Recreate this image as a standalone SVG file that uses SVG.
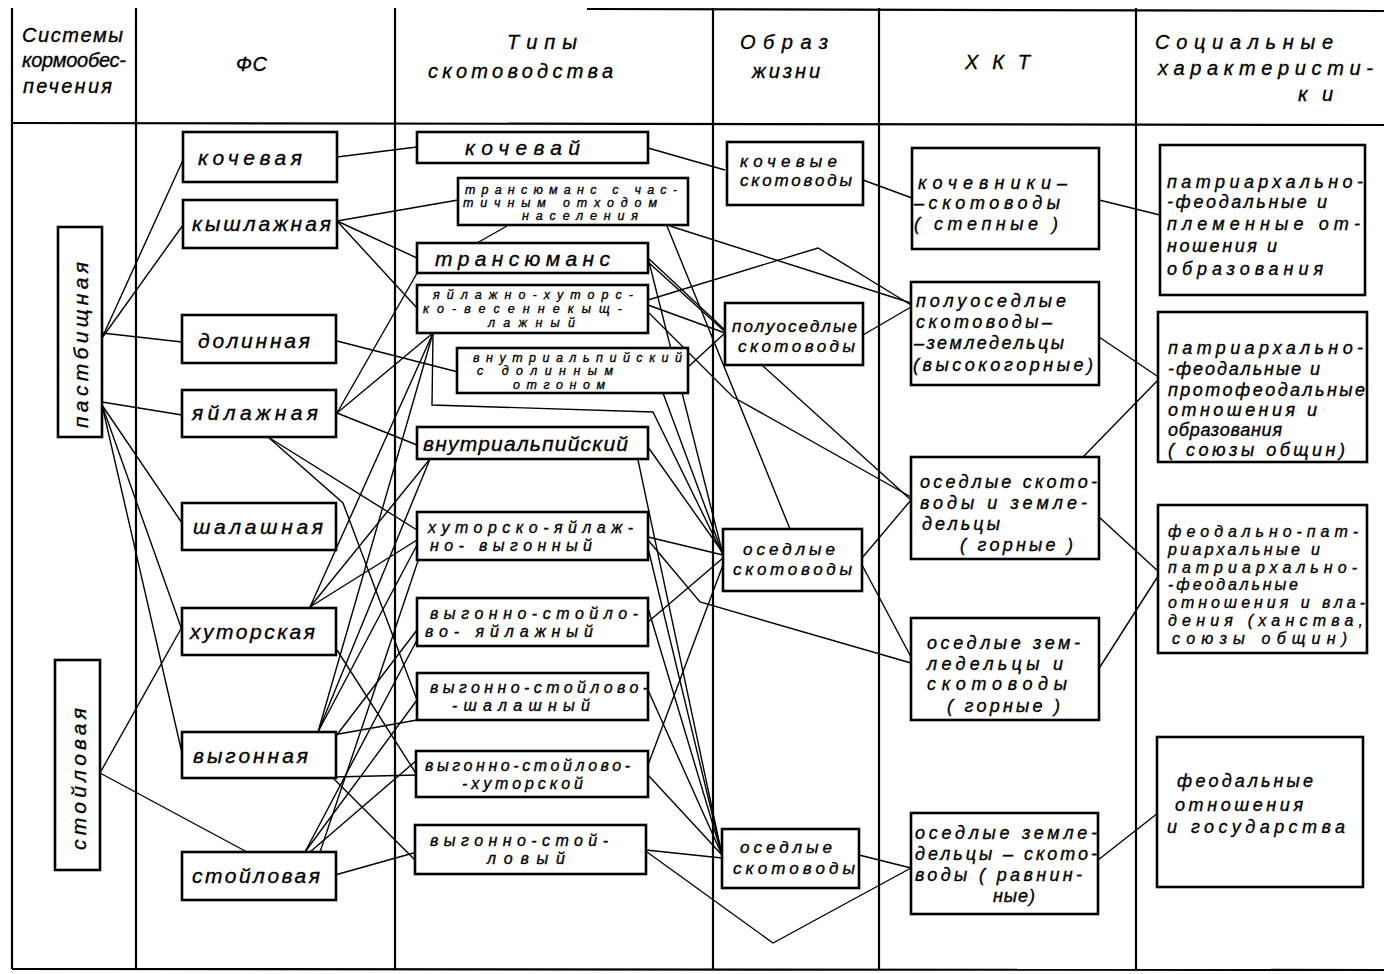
<svg xmlns="http://www.w3.org/2000/svg" width="1384" height="974" viewBox="0 0 1384 974">
<style>
.grid{stroke:#000;stroke-width:2.2;fill:none}
.box{fill:#fff;stroke:#000;stroke-width:2.6}
.c{stroke:#000;stroke-width:1.4;fill:none}
text{font-family:"Liberation Sans","DejaVu Sans",sans-serif;font-style:italic;fill:#000;stroke:#000;stroke-width:0.35}
.h{font-size:20px}
.n{font-size:21px}
.s{font-size:12.5px}
.k{font-size:16px}
.o{font-size:17px}
.m{font-size:18px}
</style>
<rect width="1384" height="974" fill="#fff"/>
<g id="table" class="grid">
<line x1="12" y1="8" x2="12" y2="969"/>
<line x1="136" y1="8" x2="136" y2="969"/>
<line x1="395" y1="8" x2="395" y2="969"/>
<line x1="713" y1="8" x2="713" y2="969"/>
<line x1="879" y1="8" x2="879" y2="969"/>
<line x1="1136" y1="8" x2="1136" y2="969"/>
<line x1="587" y1="9" x2="1384" y2="11"/>
<line x1="12" y1="123" x2="1384" y2="125"/>
<line x1="12" y1="969" x2="1384" y2="970"/>
</g>
<g id="headers">
<text class="h" x="22" y="42" textLength="101">Системы</text>
<text class="h" x="22" y="67" textLength="104">кормообес-</text>
<text class="h" x="23" y="93" textLength="89">печения</text>
<text class="h" x="236" y="71" textLength="31">Ф С</text>
<text class="h" x="507" y="49" textLength="70">Т и п ы</text>
<text class="h" x="428" y="78" textLength="185">скотоводства</text>
<text class="h" x="740" y="49" textLength="88">Образ</text>
<text class="h" x="752" y="78" textLength="68">жизни</text>
<text class="h" x="965" y="69" textLength="65">Х К Т</text>
<text class="h" x="1155" y="49" textLength="178">Социальные</text>
<text class="h" x="1158" y="75" textLength="215">характеристи-</text>
<text class="h" x="1298" y="101" textLength="35">ки</text>
</g>
<g id="connectors" class="c">
<polyline points="102,338 183,160"/>
<polyline points="102,338 183,225"/>
<polyline points="102,333 182,342"/>
<polyline points="102,402 182,415"/>
<polyline points="102,405 182,523"/>
<polyline points="102,405 182,630"/>
<polyline points="102,405 182,753"/>
<polyline points="100,773 182,627"/>
<polyline points="100,773 247,852"/>
<polyline points="337,157 417,147"/>
<polyline points="337,221 458,200"/>
<polyline points="337,221 417,258"/>
<polyline points="337,221 417,308"/>
<polyline points="337,341 458,372"/>
<polyline points="337,413 420,268"/>
<polyline points="337,413 433,333"/>
<polyline points="337,413 417,445"/>
<polyline points="268,437 417,530"/>
<polyline points="268,437 343,503 417,700"/>
<polyline points="310,607 433,333"/>
<polyline points="310,607 430,459"/>
<polyline points="310,607 417,540"/>
<polyline points="337,650 417,775"/>
<polyline points="318,732 433,333"/>
<polyline points="318,732 430,459"/>
<polyline points="318,732 417,545"/>
<polyline points="333,740 417,630"/>
<polyline points="333,735 417,720"/>
<polyline points="333,777 417,775"/>
<polyline points="333,778 417,862"/>
<polyline points="305,852 417,640"/>
<polyline points="305,852 417,700"/>
<polyline points="310,852 417,760"/>
<polyline points="320,852 420,555"/>
<polyline points="335,875 417,852"/>
<polyline points="648,148 725,170"/>
<polyline points="507,226 477,243"/>
<polyline points="670,226 911,303"/>
<polyline points="667,226 790,529"/>
<polyline points="648,258 725,330"/>
<polyline points="648,258 723,555"/>
<polyline points="648,262 911,500"/>
<polyline points="648,300 818,248 911,305"/>
<polyline points="648,305 725,333"/>
<polyline points="648,312 733,397 911,497"/>
<polyline points="688,367 725,333"/>
<polyline points="663,393 723,555"/>
<polyline points="433,333 432,405 653,412 723,555"/>
<polyline points="648,447 723,553"/>
<polyline points="638,460 722,855"/>
<polyline points="648,537 723,555"/>
<polyline points="648,540 700,602 911,663"/>
<polyline points="648,548 722,855"/>
<polyline points="648,622 723,558"/>
<polyline points="648,608 722,855"/>
<polyline points="648,690 722,855"/>
<polyline points="648,765 723,565"/>
<polyline points="648,775 722,855"/>
<polyline points="646,850 722,858"/>
<polyline points="647,852 773,943 911,868"/>
<polyline points="863,180 912,198"/>
<polyline points="863,335 911,307"/>
<polyline points="862,558 911,500"/>
<polyline points="862,565 911,657"/>
<polyline points="859,855 911,868"/>
<polyline points="1099,200 1160,215"/>
<polyline points="1099,337 1160,378"/>
<polyline points="1083,457 1160,378"/>
<polyline points="1099,517 1160,573"/>
<polyline points="1098,670 1160,573"/>
<polyline points="1098,860 1158,813"/>
</g>
<g id="n-pastb"><rect class="box" x="58" y="227" width="44" height="210"/><text class="n" transform="translate(88,428) rotate(-90)" textLength="166">пастбищная</text></g>
<g id="n-stoil-sys"><rect class="box" x="55" y="660" width="45" height="210"/><text class="n" transform="translate(86,850) rotate(-90)" textLength="142">стойловая</text></g>
<g id="n-kochevaya"><rect class="box" x="183" y="132" width="154" height="50"/><text class="n" x="198" y="165" textLength="104">кочевая</text></g>
<g id="n-kyshl"><rect class="box" x="183" y="200" width="154" height="48"/><text class="n" x="192" y="231" textLength="139">кышлажная</text></g>
<g id="n-dolin"><rect class="box" x="182" y="315" width="154" height="48"/><text class="n" x="198" y="348" textLength="112">долинная</text></g>
<g id="n-yayl"><rect class="box" x="182" y="390" width="154" height="47"/><text class="n" x="192" y="420" textLength="126">яйлажная</text></g>
<g id="n-shal"><rect class="box" x="182" y="503" width="154" height="47"/><text class="n" x="193" y="534" textLength="130">шалашная</text></g>
<g id="n-khut"><rect class="box" x="182" y="608" width="154" height="47"/><text class="n" x="190" y="639" textLength="125">хуторская</text></g>
<g id="n-vygon"><rect class="box" x="182" y="732" width="154" height="46"/><text class="n" x="193" y="763" textLength="115">выгонная</text></g>
<g id="n-stoil"><rect class="box" x="182" y="852" width="154" height="48"/><text class="n" x="192" y="883" textLength="128">стойловая</text></g>
<g id="t-koch"><rect class="box" x="417" y="132" width="231" height="31"/><text class="n" x="465" y="155" textLength="115">кочевай</text></g>
<g id="t-trans-ch"><rect class="box" x="458" y="178" width="230" height="47"/><text class="s" x="465" y="194" textLength="212">трансюманс с час-</text><text class="s" x="463" y="207" textLength="194">тичным  отходом</text><text class="s" x="522" y="220" textLength="116">населения</text></g>
<g id="t-trans"><rect class="box" x="417" y="243" width="231" height="30"/><text class="n" x="435" y="266" textLength="175">трансюманс</text></g>
<g id="t-yayl-khut"><rect class="box" x="417" y="285" width="231" height="48"/><text class="s" x="433" y="299" textLength="200">яйлажно-хуторс-</text><text class="s" x="423" y="313" textLength="199">ко-весеннекыщ-</text><text class="s" x="488" y="327" textLength="87">лажный</text></g>
<g id="t-vnutr-dol"><rect class="box" x="457" y="348" width="231" height="45"/><text class="s" x="473" y="362" textLength="209">внутриальпийский</text><text class="s" x="477" y="375" textLength="136">с долинным</text><text class="s" x="513" y="389" textLength="92">отгоном</text></g>
<g id="t-vnutr"><rect class="box" x="417" y="427" width="231" height="32"/><text class="n" x="423" y="451" textLength="205">внутриальпийский</text></g>
<g id="t-khut-yayl-vyg"><rect class="box" x="417" y="512" width="231" height="48"/><text class="k" x="428" y="533" textLength="205">хуторско-яйлаж-</text><text class="k" x="430" y="551" textLength="162">но- выгонный</text></g>
<g id="t-vsya"><rect class="box" x="417" y="598" width="231" height="48"/><text class="k" x="430" y="619" textLength="208">выгонно-стойло-</text><text class="k" x="425" y="637" textLength="168">во- яйлажный</text></g>
<g id="t-vssh"><rect class="box" x="417" y="673" width="231" height="47"/><text class="k" x="430" y="693" textLength="218">выгонно-стойлово-</text><text class="k" x="452" y="711" textLength="138">-шалашный</text></g>
<g id="t-vskh"><rect class="box" x="416" y="751" width="232" height="46"/><text class="k" x="425" y="771" textLength="205">выгонно-стойлово-</text><text class="k" x="462" y="789" textLength="121">-хуторской</text></g>
<g id="t-vs"><rect class="box" x="415" y="825" width="231" height="49"/><text class="k" x="430" y="846" textLength="178">выгонно-стой-</text><text class="k" x="487" y="864" textLength="78">ловый</text></g>
<g id="o-koch"><rect class="box" x="727" y="142" width="136" height="63"/><text class="o" x="740" y="167" textLength="97">кочевые</text><text class="o" x="740" y="186" textLength="112">скотоводы</text></g>
<g id="o-poluos"><rect class="box" x="725" y="303" width="138" height="62"/><text class="o" x="732" y="332" textLength="125">полуоседлые</text><text class="o" x="738" y="352" textLength="117">скотоводы</text></g>
<g id="o-osed1"><rect class="box" x="723" y="529" width="139" height="62"/><text class="o" x="743" y="555" textLength="92">оседлые</text><text class="o" x="733" y="575" textLength="119">скотоводы</text></g>
<g id="o-osed2"><rect class="box" x="722" y="829" width="137" height="59"/><text class="o" x="740" y="853" textLength="92">оседлые</text><text class="o" x="733" y="874" textLength="122">скотоводы</text></g>
<g id="x-koch"><rect class="box" x="912" y="148" width="187" height="101"/><text class="m" x="918" y="189" textLength="149">кочевники–</text><text class="m" x="914" y="209" textLength="146">–скотоводы</text><text class="m" x="914" y="230" textLength="144">( степные )</text></g>
<g id="x-poluos"><rect class="box" x="911" y="282" width="188" height="103"/><text class="m" x="916" y="307" textLength="150">полуоседлые</text><text class="m" x="916" y="328" textLength="136">скотоводы–</text><text class="m" x="914" y="349" textLength="150">–земледельцы</text><text class="m" x="913" y="371" textLength="180">(высокогорные)</text></g>
<g id="x-osed-sz"><rect class="box" x="911" y="457" width="188" height="102"/><text class="m" x="920" y="488" textLength="177">оседлые  ското-</text><text class="m" x="920" y="509" textLength="167">воды и земле-</text><text class="m" x="922" y="530" textLength="78">дельцы</text><text class="m" x="960" y="551" textLength="113">( горные )</text></g>
<g id="x-osed-zs"><rect class="box" x="911" y="618" width="188" height="102"/><text class="m" x="927" y="649" textLength="153">оседлые  зем-</text><text class="m" x="927" y="670" textLength="136">ледельцы  и</text><text class="m" x="927" y="690" textLength="140">скотоводы</text><text class="m" x="947" y="712" textLength="113">( горные )</text></g>
<g id="x-ravn"><rect class="box" x="911" y="813" width="187" height="101"/><text class="m" x="915" y="839" textLength="182">оседлые  земле-</text><text class="m" x="915" y="860" textLength="182">дельцы – ското-</text><text class="m" x="915" y="881" textLength="167">воды ( равнин-</text><text class="m" x="993" y="902" textLength="42">ные)</text></g>
<g id="s-1"><rect class="box" x="1160" y="145" width="205" height="150"/><text class="m" x="1167" y="188" textLength="196">патриархально-</text><text class="m" x="1167" y="208" textLength="160">-феодальные и</text><text class="m" x="1167" y="230" textLength="193">племенные от-</text><text class="m" x="1167" y="252" textLength="110">ношения  и</text><text class="m" x="1167" y="275" textLength="156">образования</text></g>
<g id="s-2"><rect class="box" x="1158" y="312" width="209" height="150"/><text class="m" x="1168" y="354" textLength="195">патриархально-</text><text class="m" x="1168" y="375" textLength="152">-феодальные  и</text><text class="m" x="1168" y="396" textLength="197">протофеодальные</text><text class="m" x="1168" y="416" textLength="149">отношения  и</text><text class="m" x="1168" y="436" textLength="114">образования</text><text class="m" x="1168" y="456" textLength="177">( союзы  общин)</text></g>
<g id="s-3"><rect class="box" x="1158" y="505" width="209" height="148"/><text class="k" x="1168" y="537" textLength="190">феодально-пат-</text><text class="k" x="1168" y="555" textLength="152">риархальные  и</text><text class="k" x="1168" y="573" textLength="189">патриархально-</text><text class="k" x="1168" y="590" textLength="130">-феодальные</text><text class="k" x="1168" y="608" textLength="197">отношения и вла-</text><text class="k" x="1168" y="626" textLength="195">дения (ханства,</text><text class="k" x="1172" y="644" textLength="175">союзы  общин)</text></g>
<g id="s-4"><rect class="box" x="1157" y="737" width="206" height="150"/><text class="m" x="1177" y="787" textLength="136">феодальные</text><text class="m" x="1175" y="811" textLength="128">отношения</text><text class="m" x="1167" y="833" textLength="178">и  государства</text></g>
</svg>
